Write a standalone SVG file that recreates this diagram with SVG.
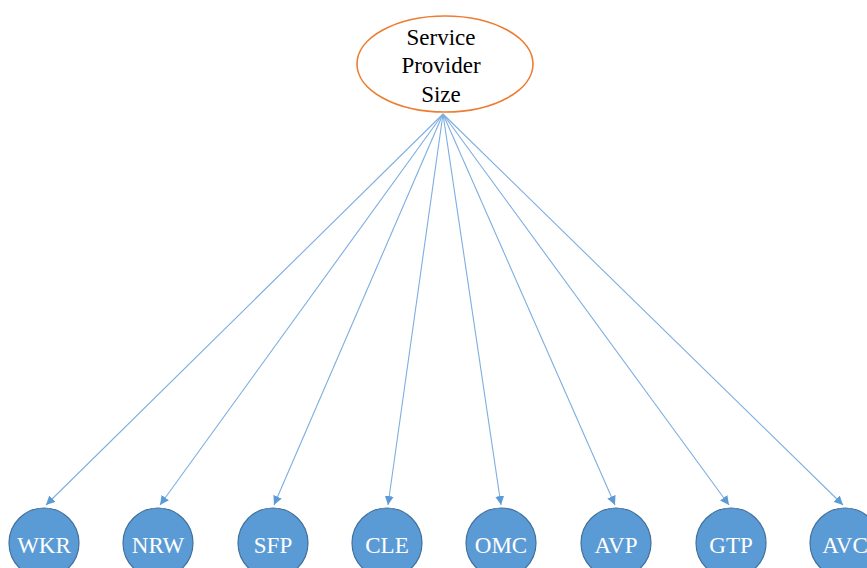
<svg xmlns="http://www.w3.org/2000/svg" width="867" height="568" viewBox="0 0 867 568">
  <style>
    .conn { stroke: #7DAEDF; stroke-width: 1.1; fill: none; marker-end: url(#arrow); }
    .leaf { fill: #5B9BD5; stroke: #41719C; stroke-width: 1.2; }
    .leaf-label { font-family: "Liberation Serif", "DejaVu Serif", serif; font-size: 23px; fill: #FFFFFF; text-anchor: middle; }
    .root { fill: #FFFFFF; stroke: #ED7D31; stroke-width: 1.6; }
    .root-label { font-family: "Liberation Serif", "DejaVu Serif", serif; font-size: 23px; fill: #000000; text-anchor: middle; }
  </style>
  <defs>
    <marker id="arrow" viewBox="0 0 10 10" refX="10" refY="5" markerWidth="9" markerHeight="9" markerUnits="userSpaceOnUse" orient="auto">
      <path d="M0,0 L10,5 L0,10 Z" fill="#5B9BD5"/>
    </marker>
  </defs>
  <rect width="867" height="568" fill="#FFFFFF"/>

  <g id="connectors">
    <line class="conn" x1="443" y1="114" x2="46" y2="505"/>
    <line class="conn" x1="443" y1="114" x2="160" y2="505"/>
    <line class="conn" x1="443" y1="114" x2="274" y2="505"/>
    <line class="conn" x1="443" y1="114" x2="388" y2="505"/>
    <line class="conn" x1="443" y1="114" x2="501" y2="505"/>
    <line class="conn" x1="443" y1="114" x2="615" y2="505"/>
    <line class="conn" x1="443" y1="114" x2="729" y2="505"/>
    <line class="conn" x1="443" y1="114" x2="843" y2="505"/>
  </g>

  <g id="service-provider-size">
    <ellipse class="root" cx="445" cy="64" rx="88" ry="48"/>
    <text class="root-label" x="441" y="45">Service</text>
    <text class="root-label" x="441" y="73">Provider</text>
    <text class="root-label" x="441" y="102">Size</text>
  </g>

  <g id="wkr">
    <circle class="leaf" cx="44" cy="543" r="35"/>
    <text class="leaf-label" x="44" y="553">WKR</text>
  </g>
  <g id="nrw">
    <circle class="leaf" cx="158" cy="543" r="35"/>
    <text class="leaf-label" x="158" y="553">NRW</text>
  </g>
  <g id="sfp">
    <circle class="leaf" cx="273" cy="543" r="35"/>
    <text class="leaf-label" x="273" y="553">SFP</text>
  </g>
  <g id="cle">
    <circle class="leaf" cx="387" cy="543" r="35"/>
    <text class="leaf-label" x="387" y="553">CLE</text>
  </g>
  <g id="omc">
    <circle class="leaf" cx="501" cy="543" r="35"/>
    <text class="leaf-label" x="501" y="553">OMC</text>
  </g>
  <g id="avp">
    <circle class="leaf" cx="616" cy="543" r="35"/>
    <text class="leaf-label" x="616" y="553">AVP</text>
  </g>
  <g id="gtp">
    <circle class="leaf" cx="731" cy="543" r="35"/>
    <text class="leaf-label" x="731" y="553">GTP</text>
  </g>
  <g id="avc">
    <circle class="leaf" cx="845" cy="543" r="35"/>
    <text class="leaf-label" x="845" y="553">AVC</text>
  </g>
</svg>
